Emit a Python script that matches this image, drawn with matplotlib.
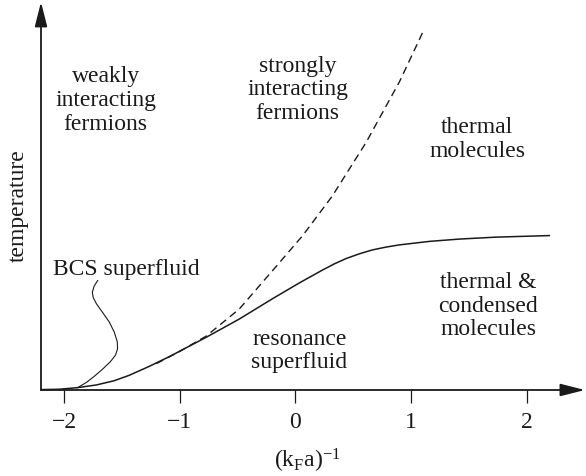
import matplotlib
matplotlib.use("Agg")
import matplotlib.pyplot as plt

plt.rcParams['font.family'] = ['Liberation Serif', 'DejaVu Serif']
plt.rcParams['mathtext.fontset'] = 'custom'
plt.rcParams['mathtext.rm'] = 'Liberation Serif'
plt.rcParams['mathtext.it'] = 'Liberation Serif:italic'

# ---- data ----
xticks = [-2, -1, 0, 1, 2]
xtick_labels = ['\u22122', '\u22121', '0', '1', '2']

# solid curve: critical temperature
tc_x = [-2.200, -2.042, -1.886, -1.721, -1.566, -1.436, -1.263, -1.090, -0.770,
        -0.484, -0.199, 0.035, 0.234, 0.337, 0.441, 0.554, 0.666, 0.779,
        0.900, 1.159, 1.419, 1.739, 2.197]
tc_y = [0.001, 0.002, 0.006, 0.013, 0.024, 0.038, 0.061, 0.086, 0.136,
        0.183, 0.235, 0.276, 0.309, 0.325, 0.339, 0.351, 0.361, 0.368,
        0.374, 0.383, 0.389, 0.394, 0.398]

# dashed curve: pairing temperature
ts_x = [-1.202, -1.003, -0.770, -0.484, -0.199, 0.061, 0.320, 0.614, 0.900, 1.107]
ts_y = [0.068, 0.099, 0.139, 0.209, 0.307, 0.397, 0.500, 0.639, 0.794, 0.925]

# leader line for the "BCS superfluid" label
lead_x = [-1.710, -1.740, -1.756, -1.748, -1.720, -1.670, -1.609, -1.566, -1.540,
          -1.538, -1.555, -1.600, -1.670, -1.740, -1.805, -1.883]
lead_y = [0.282, 0.268, 0.252, 0.238, 0.222, 0.201, 0.175, 0.149, 0.124,
          0.106, 0.090, 0.073, 0.053, 0.035, 0.020, 0.006]

region_labels = [
    ("weakly\ninteracting\nfermions", -1.64, 0.749),
    ("strongly\ninteracting\nfermions", 0.02, 0.776),
    ("thermal\nmolecules", 1.575, 0.649),
    ("thermal &\ncondensed\nmolecules", 1.67, 0.219),
    ("resonance\nsuperfluid", 0.035, 0.103),
    ("BCS superfluid", -1.466, 0.313),
]

W, H = 586, 477
fig = plt.figure(figsize=(W / 100, H / 100), dpi=100)
ax = fig.add_axes([41 / W, (H - 391) / H, 544.5 / W, 388 / H])
ax.set_xlim(-2.2, 2.51)
ax.set_ylim(0, 1)
for s in ax.spines.values():
    s.set_visible(False)

ink = '#1a1a1a'
fs = 17

# axes with arrows
arrow_kw = dict(arrowstyle='-|>,head_length=1.5,head_width=0.38', color=ink,
                lw=1.3, shrinkA=0, shrinkB=0, mutation_scale=10)
ax.annotate('', xy=(2.505, 0), xytext=(-2.2, 0), arrowprops=arrow_kw,
            annotation_clip=False)
ax.annotate('', xy=(-2.2, 1.0), xytext=(-2.2, 0), arrowprops=arrow_kw,
            annotation_clip=False)

ax.set_xticks(xticks)
ax.set_xticklabels(xtick_labels)
ax.set_yticks([])
ax.tick_params(axis='x', direction='out', length=9, width=0.9, color=ink,
               labelsize=fs, labelcolor=ink, pad=6)

ax.plot(tc_x, tc_y, color=ink, lw=1.1, clip_on=False, solid_joinstyle='round')
ax.plot(ts_x, ts_y, color=ink, lw=1.0, dashes=(5.5, 3.5), clip_on=False)
ax.plot(lead_x, lead_y, color=ink, lw=0.8, clip_on=False, solid_joinstyle='round')

for txt, x, y in region_labels:
    ax.text(x, y, txt, ha='center', va='center', multialignment='center',
            fontsize=fs, color=ink, linespacing=1.18)

fig.text(307 / W, 1 - 461 / H, r'$(\mathrm{k_F a})^{-1}$', ha='center',
         va='center', fontsize=fs, color=ink)
fig.text(18 / W, 1 - 206 / H, 'temperature', rotation=90, ha='center',
         va='center', fontsize=fs, color=ink)

fig.savefig('out.png', dpi=100)
